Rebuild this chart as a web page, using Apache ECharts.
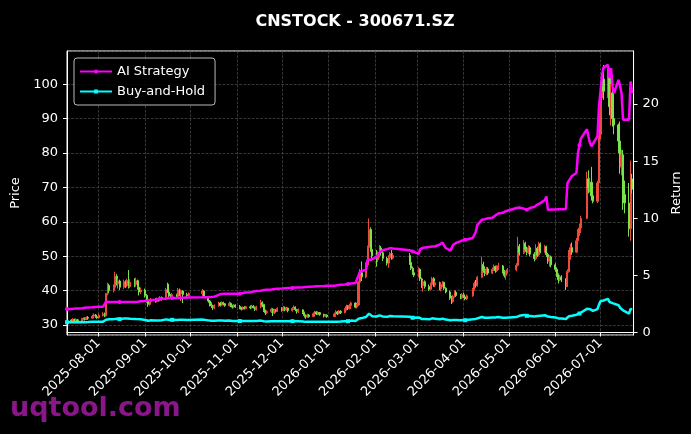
<!DOCTYPE html>
<html lang="en">
<head>
  <meta charset="UTF-8" />
  <title>CNSTOCK - 300671.SZ</title>
  <script src="https://cdn.jsdelivr.net/npm/echarts@6/dist/echarts.min.js"></script>
  <style>
    html, body { margin: 0; padding: 0; background: #000; }
    #main { width: 691px; height: 434px; }
  </style>
</head>
<body>
  <div id="main"></div>
  <script>
    // trading calendar (weekdays minus exchange holidays)
    const startDay = '2025-07-11';
    const endDay = '2026-07-22';
    const holidays = [
      '2025-10-01', '2025-10-02', '2025-10-03', '2025-10-06', '2025-10-07', '2025-10-08',
      '2026-01-01', '2026-01-02',
      '2026-02-16', '2026-02-17', '2026-02-18', '2026-02-19', '2026-02-20', '2026-02-23',
      '2026-04-06', '2026-05-01', '2026-05-04', '2026-05-05', '2026-06-19'
    ];

    // [open, close, low, high], one row per trading day
    const ohlc = [
      // 2025-07
      [31.0,31.4,30.7,31.8],[31.4,31.1,30.8,31.7],[31.1,31.6,30.9,32.0],[31.6,31.3,31.0,31.9],[31.3,31.5,31.0,31.9],
      [31.5,31.2,30.9,31.8],[31.2,31.7,31.0,32.1],[31.7,31.9,31.4,32.3],[31.9,31.6,31.3,32.2],[31.6,32.2,31.4,32.5],
      [32.2,32.0,31.6,32.6],[32.0,32.6,31.8,33.0],[32.6,32.9,32.3,33.4],[32.9,32.4,32.1,33.2],[32.4,32.1,31.8,32.8],
      // 2025-08
      [32.1,32.8,31.9,33.3],[32.8,33.2,32.5,33.7],[33.2,32.7,32.3,33.6],[32.7,39.2,32.5,39.2],[39.2,41.5,38.6,42.3],
      [41.5,40.1,39.4,42.0],[40.1,41.0,39.5,41.8],[41.0,44.2,40.5,45.5],[44.2,42.0,41.5,44.8],[42.0,42.8,40.6,43.5],
      [42.8,41.0,40.2,43.2],[41.0,42.6,40.5,43.2],[42.6,41.5,40.8,43.0],[41.5,43.0,41.0,43.5],[43.0,41.2,40.6,46.0],
      [41.2,42.4,40.8,43.3],[42.4,41.8,41.0,43.6],[41.8,42.9,41.2,43.8],[42.9,41.0,40.3,43.2],[41.0,39.6,38.6,41.4],
      [39.6,40.2,39.0,40.9],
      // 2025-09
      [40.2,38.6,38.0,40.6],[38.6,37.2,36.5,39.0],[37.2,36.0,35.3,37.6],[36.0,36.8,35.6,37.2],[36.8,37.4,36.3,37.9],
      [37.4,36.9,36.5,37.8],[36.9,37.6,36.6,38.0],[37.6,37.2,36.8,38.0],[37.2,38.0,36.9,38.4],[38.0,37.5,37.1,38.3],
      [37.5,40.3,37.3,40.8],[41.9,39.6,39.3,42.3],[39.6,38.5,38.0,39.9],[38.5,38.1,37.7,39.0],[38.1,38.8,37.9,39.3],
      [38.8,38.3,37.9,39.1],[38.3,40.2,38.0,40.8],[40.2,39.0,38.4,40.6],[39.0,39.9,37.0,40.3],[39.9,38.9,36.4,40.1],
      [38.9,38.6,38.2,39.4],[38.6,39.2,38.3,39.5],
      // 2025-10
      [39.2,39.9,38.2,40.5],[39.9,38.2,37.9,40.1],[38.2,37.0,36.5,38.4],[37.0,36.2,35.4,37.3],[36.2,35.6,35.0,36.6],
      [35.6,35.0,34.4,35.9],[35.0,35.6,34.6,36.0],[35.6,36.4,35.3,36.8],[36.4,35.8,35.4,36.7],[35.8,36.5,35.5,36.9],
      [36.5,36.2,35.7,36.8],[36.2,35.7,35.3,36.4],[35.7,36.3,35.4,36.8],[36.3,35.6,35.2,36.6],[35.6,35.2,34.8,35.9],
      [35.2,35.8,34.9,36.1],[35.8,35.4,35.0,36.0],
      // 2025-11
      [35.4,35.0,34.6,35.8],[35.0,34.6,34.2,35.3],[34.6,35.1,34.4,35.4],[35.1,34.8,34.5,35.5],[34.8,35.3,34.6,35.6],
      [35.3,35.0,34.6,35.7],[35.0,35.5,34.8,35.9],[35.5,35.1,34.8,35.8],[35.1,34.5,34.1,35.4],[34.5,35.3,34.2,35.6],
      [35.3,36.5,34.9,37.3],[36.5,36.0,35.2,36.9],[36.0,34.2,33.8,36.2],[34.2,33.6,32.9,34.5],[33.6,33.9,33.2,34.3],
      [33.9,34.6,33.5,35.0],[34.6,33.5,32.6,34.9],[33.5,34.3,33.2,34.7],[34.3,34.0,33.6,34.6],[34.0,34.8,33.8,35.1],
      // 2025-12
      [34.8,34.3,33.9,35.2],[34.3,35.0,34.0,35.5],[35.0,34.4,34.0,35.4],[34.4,34.9,34.1,35.3],[34.9,34.2,33.7,35.1],
      [34.2,34.8,33.9,35.2],[34.8,35.2,34.4,35.7],[35.2,34.5,34.0,35.4],[34.5,33.9,33.3,34.7],[33.9,34.4,33.5,34.8],
      [34.4,33.6,33.2,34.6],[33.6,32.8,32.2,33.9],[32.8,32.4,31.8,33.1],[32.4,32.9,32.1,33.3],[32.9,32.5,32.1,33.2],
      [32.5,33.3,32.3,33.7],[33.3,33.8,33.0,34.1],[33.8,33.2,32.9,34.0],[33.2,33.6,32.9,34.0],[33.6,33.1,32.7,33.8],
      [33.1,32.6,32.2,33.3],[32.6,32.9,32.3,33.2],[32.9,32.5,32.1,33.1],
      // 2026-01
      [32.5,33.2,32.3,33.6],[33.2,33.8,32.9,34.3],[33.8,33.3,32.9,34.1],[33.3,34.0,33.1,34.4],[34.0,33.6,33.2,34.3],
      [33.6,34.5,33.4,34.9],[34.5,35.4,34.2,35.9],[35.4,34.8,34.4,35.8],[34.8,35.7,34.5,36.2],[35.7,36.4,35.3,36.8],
      [36.4,35.2,34.9,36.6],[35.2,35.8,34.8,36.2],[35.8,42.5,35.5,42.9],[42.5,45.2,41.8,46.3],[45.2,44.0,42.8,48.5],
      [44.0,47.5,43.6,48.2],[47.5,52.6,46.9,53.1],[52.6,57.8,52.2,61.0],[57.8,52.0,51.3,58.4],[52.0,50.1,49.2,53.3],
      // 2026-02
      [50.1,49.0,47.0,51.8],[49.0,50.5,48.3,51.4],[50.5,52.4,49.6,53.3],[52.4,51.0,50.2,53.0],[51.0,49.4,48.6,51.6],
      [49.4,48.0,47.3,49.8],[48.0,49.6,46.6,50.3],[49.6,50.8,49.1,51.2],[50.8,49.5,49.0,51.8],[49.5,50.2,49.1,50.7],
      [50.2,48.2,47.5,50.9],[48.2,46.5,46.0,48.6],[46.5,45.2,44.6,47.0],[45.2,44.5,44.0,45.6],
      // 2026-03
      [44.5,46.2,43.8,46.8],[46.2,43.4,42.8,46.5],[43.4,41.5,40.8,43.8],[41.5,42.6,39.7,43.0],[42.6,41.2,40.6,43.0],
      [41.2,40.4,39.9,41.8],[40.4,41.8,40.1,42.3],[41.8,43.5,41.4,44.0],[43.5,41.6,41.1,43.9],[41.6,42.3,41.0,42.8],
      [42.3,40.5,40.1,42.6],[40.5,41.8,39.8,42.4],[41.8,42.4,41.0,42.8],[42.4,40.7,40.2,42.6],[40.7,39.6,39.2,41.0],
      [39.6,37.8,37.3,40.0],[37.8,36.8,36.1,38.5],[36.8,38.4,36.5,38.8],[38.4,39.5,38.0,40.1],[39.5,38.6,38.2,40.0],
      [38.6,37.9,37.5,39.0],[37.9,38.8,37.6,39.3],
      // 2026-04
      [38.8,38.2,37.8,39.4],[38.2,37.6,37.2,38.6],[37.6,38.5,37.3,38.9],[38.5,40.3,38.2,40.8],[40.3,42.1,40.0,42.6],
      [42.1,41.5,40.9,43.1],[41.5,43.9,41.2,44.3],[43.9,47.6,43.6,49.9],[47.6,45.9,45.2,48.4],[45.9,45.0,44.2,47.1],
      [45.0,46.3,44.5,46.9],[46.3,45.1,44.6,46.8],[45.1,46.2,44.8,46.7],[46.2,47.0,45.7,47.6],[47.0,45.8,45.2,47.3],
      [45.8,46.6,45.4,47.4],[46.6,47.2,46.0,48.1],[47.2,45.6,45.0,47.5],[45.6,44.4,43.8,46.0],[44.4,45.3,43.2,45.8],
      [45.3,46.1,44.9,46.6],
      // 2026-05
      [46.1,47.4,45.6,48.0],[47.4,52.9,47.0,55.7],[52.9,51.0,50.2,53.6],[51.0,53.8,50.6,54.7],[53.8,52.0,51.3,54.2],
      [52.0,51.1,50.3,52.8],[51.1,52.5,50.6,53.2],[52.5,50.6,50.0,53.0],[50.6,49.3,48.5,51.2],[49.3,52.3,48.9,53.5],
      [52.3,50.4,49.8,52.8],[50.4,53.6,50.1,54.2],[53.6,51.5,50.9,54.0],[51.5,52.8,51.0,53.3],[52.8,50.5,49.8,53.1],
      [50.5,48.6,47.8,51.0],[48.6,49.8,47.0,50.3],[49.8,47.5,46.8,50.2],
      // 2026-06
      [47.5,46.2,45.5,48.0],[46.2,44.6,44.0,46.8],[44.6,43.2,42.1,45.0],[43.2,44.0,42.8,44.6],[44.0,43.1,42.5,44.5],
      [43.1,41.2,40.2,43.6],[41.2,45.6,41.0,46.2],[45.6,49.8,45.2,51.8],[49.8,52.5,49.0,53.6],[52.5,51.2,50.4,54.0],
      [51.2,54.5,50.9,55.3],[54.5,56.8,53.8,57.9],[56.8,58.2,55.9,59.5],[58.2,61.0,57.6,61.8],[61.0,72.5,60.8,74.6],
      [72.5,69.8,68.3,75.0],[69.8,71.5,68.6,72.8],[71.5,67.6,66.2,76.0],[67.6,66.0,65.4,70.5],[66.0,71.3,65.5,72.0],
      [71.3,85.5,70.2,85.5],
      // 2026-07
      [85.5,96.0,84.0,100.2],[96.0,101.5,93.0,103.0],[101.5,98.0,95.5,105.6],[98.0,103.0,96.0,104.5],[103.0,93.5,91.0,104.0],
      [93.5,97.5,88.0,100.2],[97.5,90.0,87.7,99.0],[90.0,88.2,85.5,92.0],[88.2,83.5,80.0,88.6],[83.5,76.0,74.0,89.2],
      [76.0,79.5,73.5,81.0],[79.5,68.0,63.5,80.9],[68.0,65.5,62.5,72.0],[65.5,58.0,55.7,71.3],[58.0,72.5,54.5,77.8],
      [72.5,69.5,68.3,74.0]
    ];

    const aiStrategy = [
      2.05,2.06,2.08,2.09,2.10,2.11,2.13,2.15,2.16,2.17,2.18,2.20,2.22,2.23,2.24,
      2.25,2.26,2.27,2.70,2.69,2.68,2.68,2.70,2.68,2.68,2.67,2.68,2.67,2.68,2.69,2.68,2.68,2.69,2.70,2.71,2.73,
      2.75,2.78,2.80,2.82,2.84,2.87,2.90,2.92,2.94,2.96,2.98,3.00,3.01,3.02,3.02,3.03,3.04,3.04,3.05,3.05,3.06,3.06,
      3.08,3.08,3.09,3.10,3.10,3.12,3.14,3.30,3.36,3.38,3.39,3.39,3.39,3.39,3.39,3.38,3.39,
      3.40,3.42,3.45,3.48,3.50,3.53,3.55,3.58,3.60,3.63,3.66,3.69,3.72,3.74,3.75,3.77,3.79,3.80,3.82,3.84,
      3.85,3.86,3.87,3.88,3.89,3.90,3.91,3.93,3.94,3.95,3.97,3.98,3.99,4.00,4.01,4.02,4.03,4.04,4.05,4.06,4.07,4.08,4.09,
      4.10,4.12,4.14,4.16,4.18,4.20,4.24,4.25,4.27,4.29,4.33,4.35,5.00,5.34,5.40,5.49,6.36,6.36,6.36,6.40,
      6.63,6.80,7.00,7.10,7.20,7.30,7.35,7.39,7.39,7.35,7.20,7.18,7.10,7.00,
      6.89,7.30,7.39,7.42,7.45,7.48,7.50,7.53,7.53,7.55,7.70,7.80,7.88,7.60,7.40,7.18,7.40,7.68,7.75,7.85,8.00,8.10,
      8.12,8.12,8.14,8.27,8.30,8.80,9.40,9.87,9.90,9.92,9.95,10.00,10.05,10.15,10.25,10.35,10.42,10.48,10.55,10.62,10.68,
      10.90,11.03,10.95,10.85,10.78,10.74,10.80,10.90,11.00,11.10,11.20,11.30,11.33,11.60,11.91,10.74,10.74,10.76,
      10.78,10.78,10.80,10.80,10.80,10.82,13.08,13.30,13.50,13.70,13.96,15.70,16.40,17.00,17.80,17.16,16.60,16.30,16.40,17.20,19.80,
      21.10,22.50,23.20,23.44,22.27,23.15,21.50,20.96,22.13,21.60,20.96,18.63,18.63,18.63,21.98,20.96
    ];

    const buyHold = [
      0.90,0.89,0.90,0.89,0.90,0.89,0.91,0.91,0.90,0.92,0.91,0.93,0.94,0.93,0.92,
      0.94,0.95,0.93,1.12,1.19,1.15,1.17,1.26,1.20,1.22,1.17,1.22,1.19,1.23,1.18,1.21,1.19,1.23,1.17,1.13,1.15,
      1.10,1.06,1.03,1.05,1.07,1.05,1.07,1.06,1.09,1.07,1.15,1.13,1.10,1.09,1.11,1.09,1.15,1.11,1.14,1.11,1.10,1.12,
      1.14,1.09,1.06,1.03,1.02,1.00,1.02,1.04,1.02,1.04,1.03,1.02,1.04,1.02,1.01,1.02,1.01,
      1.00,0.99,1.00,0.99,1.01,1.00,1.01,1.00,0.99,1.01,1.04,1.03,0.98,0.96,0.97,0.99,0.96,0.98,0.97,0.99,
      0.98,1.00,0.98,1.00,0.98,0.99,1.01,0.99,0.97,0.98,0.96,0.94,0.93,0.94,0.93,0.95,0.97,0.95,0.96,0.95,0.93,0.94,0.93,
      0.95,0.97,0.95,0.97,0.96,0.99,1.01,0.99,1.02,1.04,1.01,1.02,1.21,1.29,1.26,1.36,1.50,1.65,1.49,1.43,
      1.40,1.44,1.50,1.46,1.41,1.37,1.42,1.45,1.41,1.43,1.38,1.33,1.29,1.27,
      1.32,1.24,1.19,1.22,1.18,1.15,1.19,1.24,1.19,1.21,1.16,1.19,1.21,1.16,1.13,1.08,1.05,1.10,1.13,1.10,1.08,1.11,
      1.09,1.07,1.10,1.15,1.20,1.19,1.25,1.36,1.31,1.29,1.32,1.29,1.32,1.34,1.31,1.33,1.35,1.30,1.27,1.29,1.32,
      1.35,1.51,1.46,1.54,1.49,1.46,1.50,1.45,1.41,1.49,1.44,1.53,1.47,1.51,1.44,1.39,1.42,1.36,
      1.32,1.27,1.23,1.26,1.23,1.18,1.30,1.42,1.50,1.46,1.56,1.62,1.66,1.74,2.07,1.99,2.04,1.93,1.89,2.04,2.44,
      2.74,2.90,2.80,2.94,2.67,2.79,2.57,2.52,2.39,2.17,2.27,1.94,1.87,1.66,2.07,1.99
    ];

    const markEvery = 25;

    function tradingDays(from, to) {
      const out = [];
      const d = new Date(from + 'T00:00:00Z');
      const last = new Date(to + 'T00:00:00Z');
      while (d <= last) {
        const wd = d.getUTCDay();
        const s = d.toISOString().slice(0, 10);
        if (wd !== 0 && wd !== 6 && holidays.indexOf(s) < 0) out.push(s);
        d.setUTCDate(d.getUTCDate() + 1);
      }
      return out;
    }

    const days = tradingDays(startDay, endDay);
    if (days.length !== ohlc.length) console.warn('length mismatch', days.length, ohlc.length);

    const candleData = days.map((d, i) => [d].concat(ohlc[i]));
    const aiData = days.map((d, i) => [d, aiStrategy[i]]);
    const bhData = days.map((d, i) => [d, buyHold[i]]);

    const UP = '#ee4a3c';
    const DOWN = '#7be24a';
    const GRID = '#4d4d4d';
    const DAY = 24 * 3600 * 1000;
    const markerSize = (v, p) => (p.dataIndex % markEvery === 0 ? 4 : 0);

    const chart = echarts.init(document.getElementById('main'));
    chart.setOption({
      backgroundColor: '#000',
      animation: false,
      textStyle: { fontFamily: 'DejaVu Sans' },
      title: {
        text: 'CNSTOCK - 300671.SZ',
        left: 350,
        top: 9,
        textAlign: 'center',
        textStyle: { color: '#fff', fontSize: 16, fontWeight: 'bold', fontFamily: 'DejaVu Sans' }
      },
      legend: {
        orient: 'vertical',
        left: 74,
        top: 58,
        padding: [7, 10, 7, 5],
        itemGap: 7,
        itemWidth: 32,
        itemHeight: 5,
        backgroundColor: 'rgba(0,0,0,0.85)',
        borderColor: '#bbbbbb',
        borderWidth: 1,
        borderRadius: 3,
        textStyle: { color: '#fff', fontSize: 13 },
        data: ['AI Strategy', 'Buy-and-Hold']
      },
      grid: {
        left: 67, right: 57, top: 51, bottom: 99,
        show: true, borderColor: '#fff', borderWidth: 1, backgroundColor: 'transparent'
      },
      xAxis: {
        type: 'time',
        min: '2025-07-11',
        max: '2026-07-23',
        minInterval: 28 * DAY,
        maxInterval: 31 * DAY,
        axisLine: { show: true, lineStyle: { color: '#fff' } },
        axisTick: { show: true, length: 4, lineStyle: { color: '#fff' } },
        axisLabel: {
          rotate: 45, color: '#fff', fontSize: 13, margin: 6,
          formatter: '{yyyy}-{MM}-{dd}', showMinLabel: false, showMaxLabel: false
        },
        splitLine: { show: true, lineStyle: { color: GRID, type: 'dashed', width: 0.7 } }
      },
      yAxis: [
        {
          type: 'value', position: 'left', min: 27.1, max: 109.7, splitNumber: 8,
          name: 'Price', nameLocation: 'middle', nameGap: 39, nameRotate: 90,
          nameTextStyle: { color: '#fff', fontSize: 13 },
          axisLine: { show: true, lineStyle: { color: '#fff' } },
          axisTick: { show: true, length: 4, lineStyle: { color: '#fff' } },
          axisLabel: { color: '#fff', fontSize: 13, margin: 9, showMinLabel: false, showMaxLabel: false },
          splitLine: { show: true, lineStyle: { color: GRID, type: 'dashed', width: 0.7 } }
        },
        {
          type: 'value', position: 'right', min: -0.22, max: 24.65, splitNumber: 5,
          name: 'Return', nameLocation: 'middle', nameGap: 29, nameRotate: 90,
          nameTextStyle: { color: '#fff', fontSize: 13 },
          axisLine: { show: true, lineStyle: { color: '#fff' } },
          axisTick: { show: true, length: 4, lineStyle: { color: '#fff' } },
          axisLabel: { color: '#fff', fontSize: 13, margin: 9, showMinLabel: false, showMaxLabel: false },
          splitLine: { show: false }
        }
      ],
      series: [
        {
          type: 'candlestick',
          name: 'Price',
          data: candleData,
          barWidth: 1.6,
          itemStyle: { color: UP, color0: DOWN, borderColor: UP, borderColor0: DOWN, borderWidth: 1 }
        },
        {
          type: 'line',
          name: 'AI Strategy',
          yAxisIndex: 1,
          data: aiData,
          symbol: 'circle',
          symbolSize: markerSize,
          lineStyle: { color: '#ff00ff', width: 2.5 },
          itemStyle: { color: '#ff00ff' },
          z: 3
        },
        {
          type: 'line',
          name: 'Buy-and-Hold',
          yAxisIndex: 1,
          data: bhData,
          symbol: 'rect',
          symbolSize: markerSize,
          lineStyle: { color: '#00ffff', width: 2.5 },
          itemStyle: { color: '#00ffff' },
          z: 3
        }
      ],
      graphic: [{
        type: 'text',
        left: 10,
        top: 395,
        z: 100,
        style: { text: 'uqtool.com', fill: '#8a168a', font: 'bold 27px "DejaVu Sans"' }
      }]
    });
  </script>
</body>
</html>
